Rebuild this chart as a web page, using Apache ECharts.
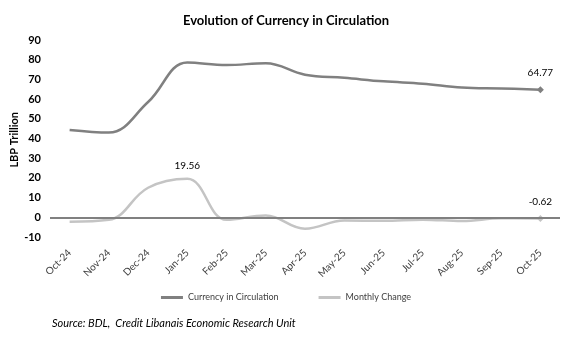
<!DOCTYPE html>
<html><head><meta charset="utf-8">
<script src="https://cdn.jsdelivr.net/npm/echarts@6/dist/echarts.min.js"></script>
<style>html,body{margin:0;padding:0;background:#fff}#c{width:572px;height:337px}</style>
</head><body><div id="c"></div>
<script>
const categories = ['Oct-24','Nov-24','Dec-24','Jan-25','Feb-25','Mar-25','Apr-25','May-25','Jun-25','Jul-25','Aug-25','Sep-25','Oct-25'];
const currency = [44.3, 43.0, 58.5, 78.6, 77.3, 78.2, 72.4, 70.8, 69.0, 67.8, 65.9, 65.4, 64.77];
const monthlyChange = [-2.3, -1.3, 15.0, 19.56, -1.3, 0.9, -5.8, -1.6, -1.8, -1.2, -1.9, -0.5, -0.62];
const yTicks = {min: -10, max: 90, interval: 10};
const labelIdx = {currency: [12], change: [3, 12]};

const font = 'Lato, "Open Sans", sans-serif';
function mkData(arr, idxs) {
  return arr.map((v, i) => {
    if (!idxs.includes(i)) return {value: v, symbol: 'none'};
    const last = i === arr.length - 1;
    return {value: v, symbol: last ? 'diamond' : 'circle', symbolSize: last ? 7 : 0.01,
      label: {show: true, position: 'top', distance: 8, color: '#000', fontSize: 10, fontFamily: font,
        formatter: p => Number(p.value).toFixed(2)}};
  });
}
const chart = echarts.init(document.getElementById('c'));
chart.setOption({
  animation: false,
  title: {text: 'Evolution of Currency in Circulation', left: 'center', top: 9,
    textStyle: {fontFamily: font, fontSize: 13, fontWeight: 'bold', color: '#000'}},
  grid: {left: 50, right: 12, top: 40, height: 197},
  legend: {bottom: 30, left: 'center', itemWidth: 22, itemHeight: 3, itemGap: 40, icon: 'rect',
    textStyle: {fontFamily: font, fontSize: 9, color: '#404040'},
    data: ['Currency in Circulation', 'Monthly Change']},
  graphic: [
    {type: 'text', left: 52, top: 318, style: {text: 'Source: BDL,  Credit Libanais Economic Research Unit',
      font: 'italic 11px ' + font, fill: '#000'}},
    {type: 'text', left: 9, top: 112, rotation: Math.PI / 2, originX: 0, originY: 0,
      style: {text: 'LBP Trillion', font: 'bold 11px ' + font, fill: '#000'}}
  ],
  xAxis: {type: 'category', data: categories, boundaryGap: true,
    axisLine: {show: false}, axisTick: {show: false},
    axisLabel: {rotate: 45, fontFamily: font, fontSize: 10, color: '#404040', margin: 14, interval: 0}},
  yAxis: {type: 'value', min: yTicks.min, max: yTicks.max, interval: yTicks.interval,
    splitLine: {show: false}, axisLine: {show: false}, axisTick: {show: false},
    axisLabel: {fontFamily: font, fontSize: 11, fontWeight: 'bold', color: '#000', margin: 9}},
  series: [
    {name: 'Currency in Circulation', type: 'line', smooth: 0.4, data: mkData(currency, labelIdx.currency),
      lineStyle: {color: '#808080', width: 2.5}, itemStyle: {color: '#808080'}, z: 3},
    {name: 'Monthly Change', type: 'line', smooth: 0.4, data: mkData(monthlyChange, labelIdx.change),
      lineStyle: {color: '#c4c4c4', width: 2.5}, itemStyle: {color: '#c4c4c4'}, z: 2,
      markLine: {silent: true, symbol: 'none', label: {show: false},
        lineStyle: {color: '#808080', width: 2, type: 'solid'}, data: [{yAxis: 0}]}}
  ]
});
</script></body></html>
